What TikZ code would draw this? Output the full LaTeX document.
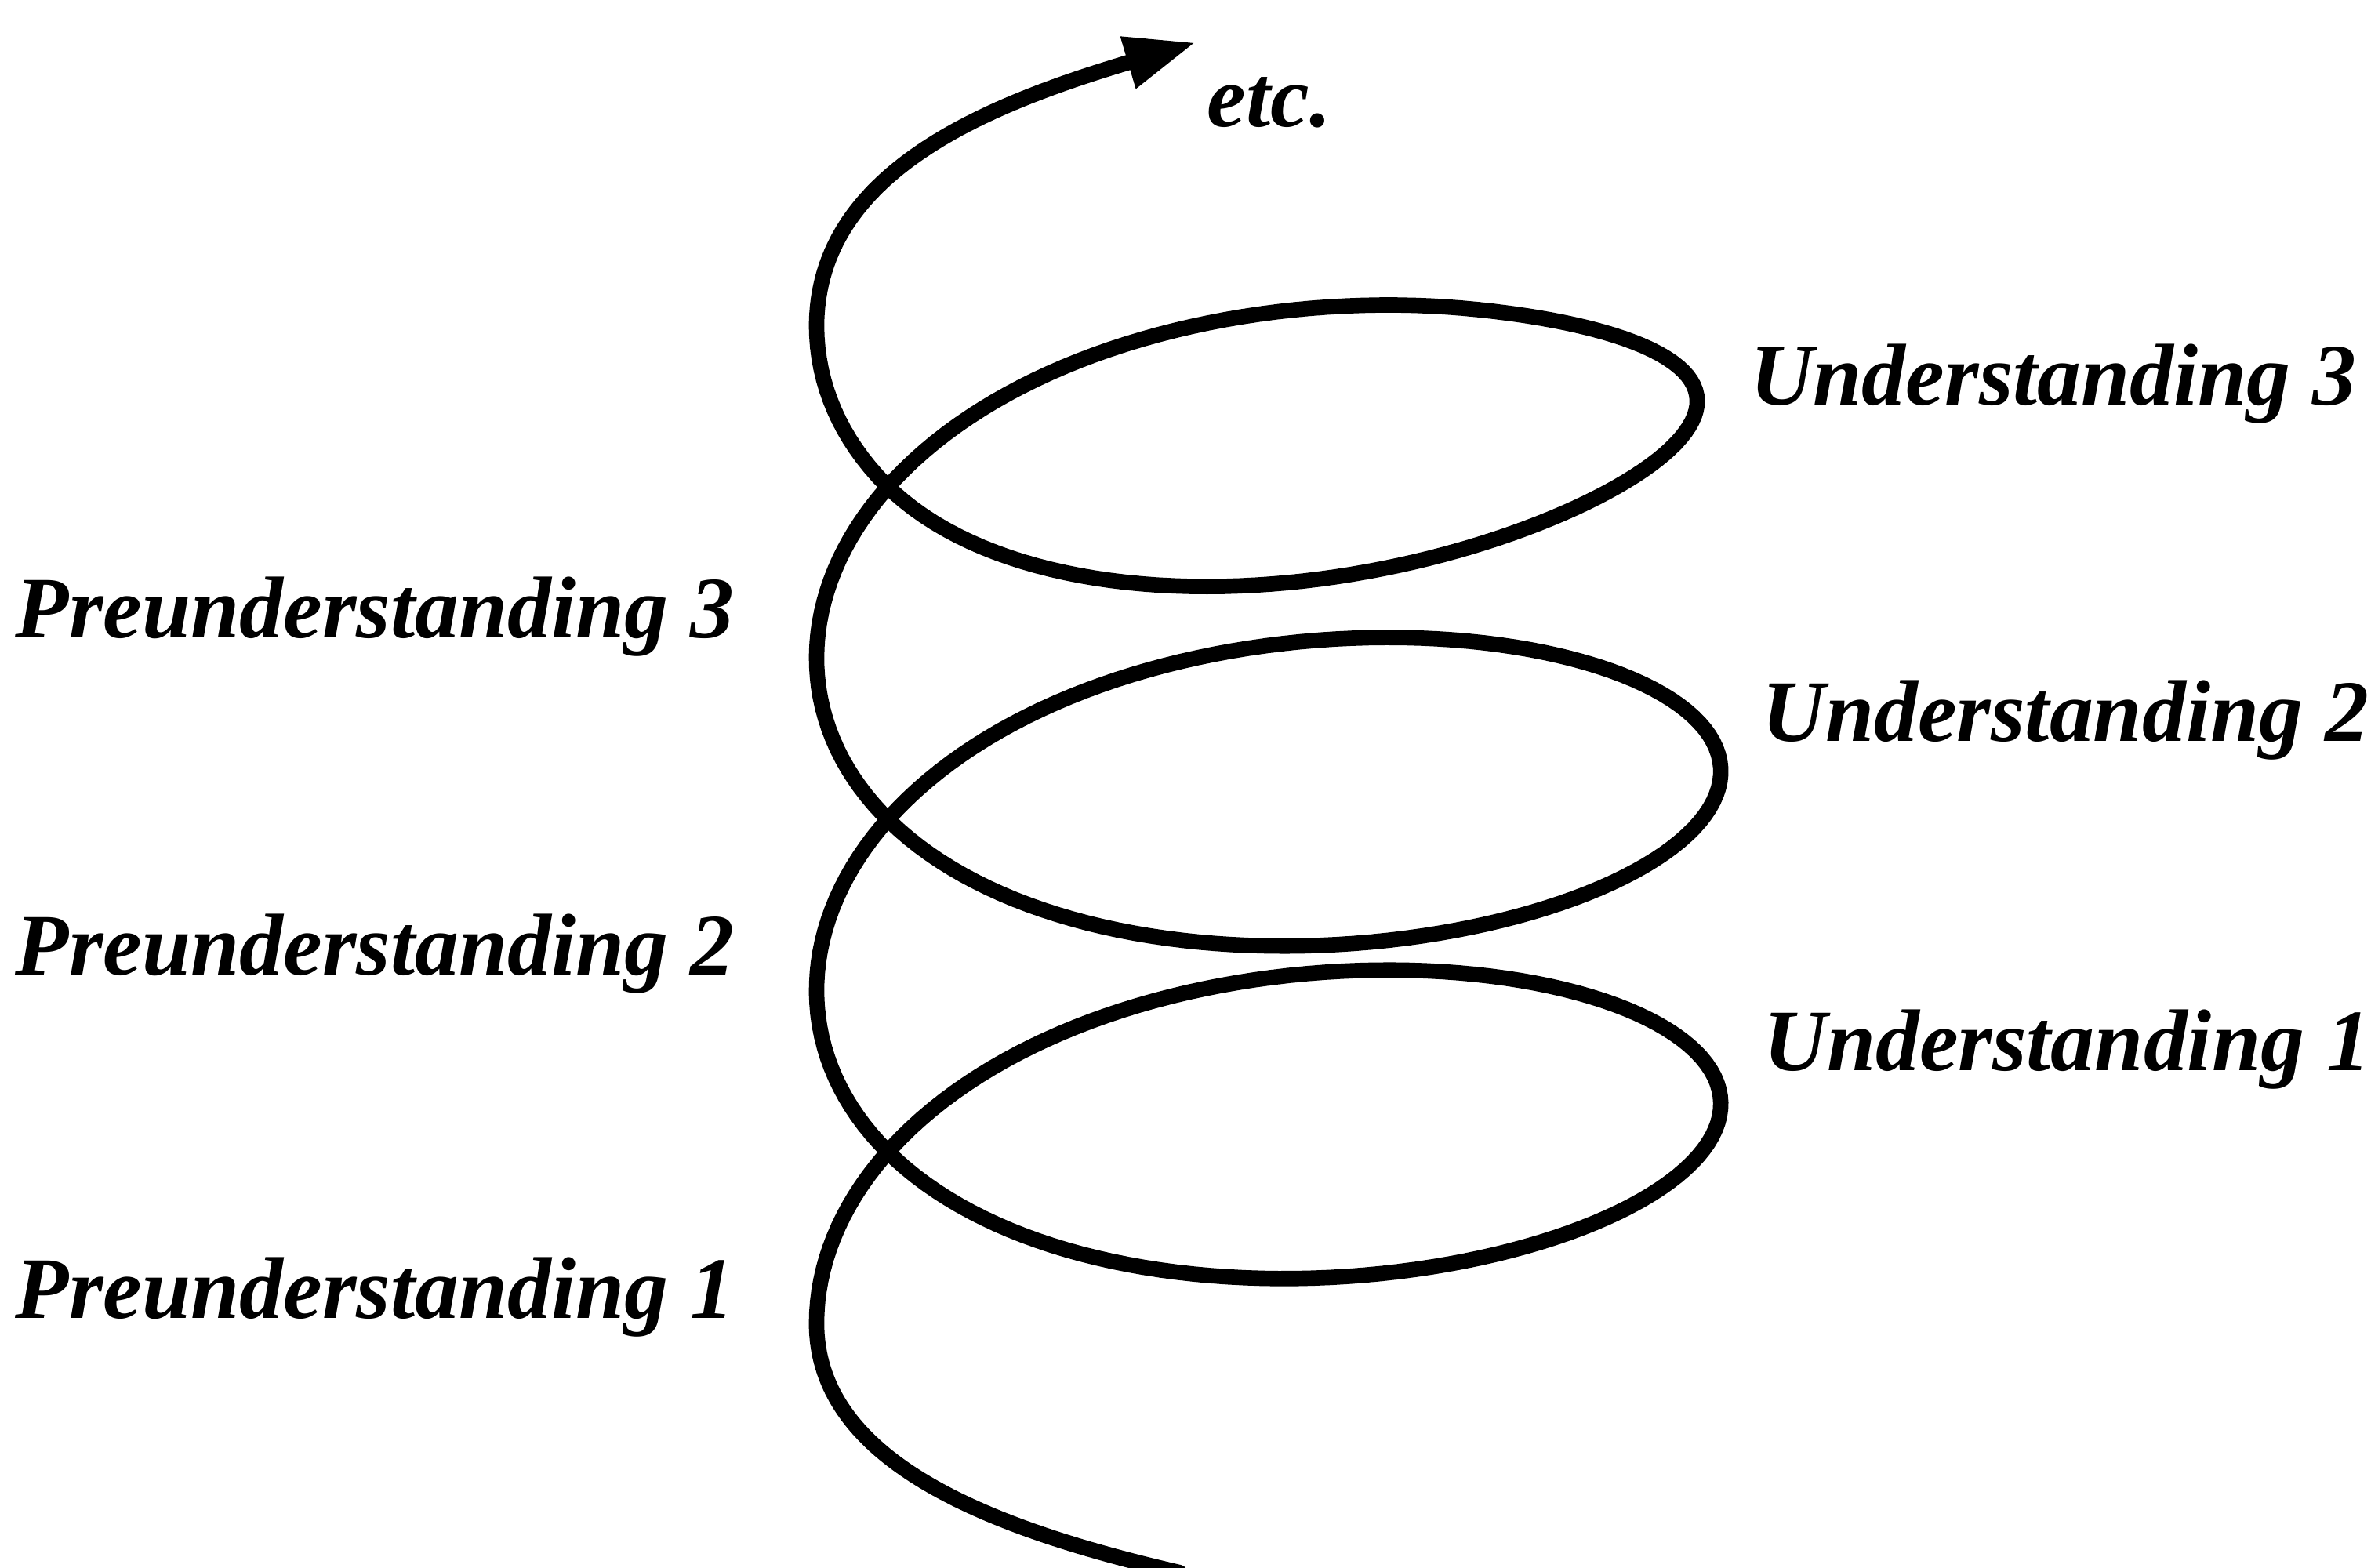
\documentclass[tikz,border=0pt]{standalone}
\usepackage{fontspec}
\setmainfont{Liberation Serif}
\usetikzlibrary{arrows.meta}
\tikzset{
  lbl/.style={font=\fontsize{33}{36}\selectfont\bfseries\itshape,inner sep=0pt,anchor=base west},
  spiral/.style={line width=5.8pt,line cap=round,line join=round,-{Triangle[length=0.94cm,width=0.66cm]}}
}
\begin{document}
\begin{tikzpicture}[x=0.02cm,y=-0.02cm,
  declare function={w(\t)=(\t>17.8)*(\t<21.4)*sin(deg((\t-17.8)/3.6*pi))^2;}]
  \useasboundingbox[fill=white] (0,0) rectangle (1568,1037);
  \clip (0,0) rectangle (1568,1037);
  % labels
  \node[lbl] (pre3) at (10,422) {Preunderstanding 3};
  \node[lbl] (pre2) at (10,645) {Preunderstanding 2};
  \node[lbl] (pre1) at (10,872) {Preunderstanding 1};
  \node[lbl] (und3) at (1157,268) {Understanding 3};
  \node[lbl] (und2) at (1165,490) {Understanding 2};
  \node[lbl] (und1) at (1166,708) {Understanding 1};
  \node[lbl] (etc) at (798,84) {etc.};
  % tail, the helix (top loop a bit smaller), then the last bend up to the arrow
  \coordinate (tail) at (780,1040);
  \coordinate (low) at (540,875);
  \coordinate (tip) at (791,28);
  \draw[spiral] (tail) .. controls (650,1010) and (540,965) .. (low)
    -- plot[domain=3.14159:21.9911,samples=500,variable=\t]
      ({839+(299-26*w(\t))*cos(\t r)-25*sin(\t r)^2},
       {967.5+152*sin(\t r)-17.5*cos(\t r)-35*\t-30*w(\t)})
    .. controls (540,115) and (650,70) .. (tip);
\end{tikzpicture}
\end{document}
